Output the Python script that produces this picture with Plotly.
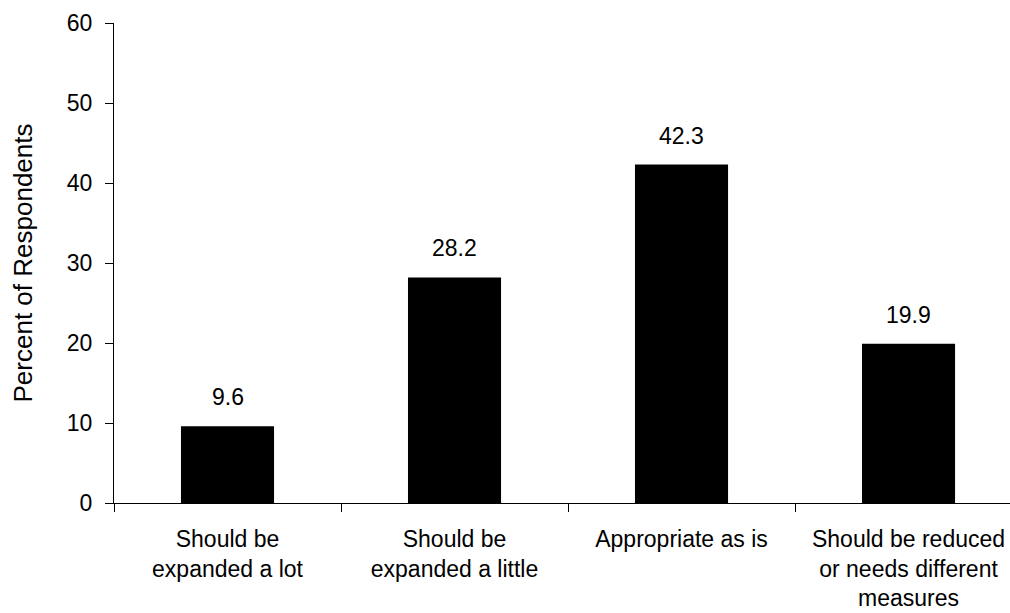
import plotly.graph_objects as go

categories = ["Should be<br>expanded a lot", "Should be<br>expanded a little",
              "Appropriate as is", "Should be reduced<br>or needs different<br>measures"]
values = [9.6, 28.2, 42.3, 19.9]
value_labels = ["9.6", "28.2", "42.3", "19.9"]
y_ticks = [0, 10, 20, 30, 40, 50, 60]

FONT = "Liberation Sans, Arial, sans-serif"

fig = go.Figure()
fig.add_trace(go.Bar(
    x=categories, y=values, width=0.41,
    marker=dict(color="#000000", line=dict(width=0)),
    hoverinfo="skip",
))

for c, v, t in zip(categories, values, value_labels):
    fig.add_annotation(x=c, y=v, text=t, showarrow=False, yanchor="bottom",
                       yshift=14, font=dict(family=FONT, size=23, color="#000"))

fig.update_layout(
    width=1010, height=613,
    margin=dict(l=114, r=0, t=23, b=110),
    plot_bgcolor="white", paper_bgcolor="white",
    showlegend=False,
    font=dict(family=FONT, size=23, color="#000"),
)
fig.update_xaxes(
    type="category", range=[-0.5, 3.447],
    showline=True, linecolor="#000", linewidth=1,
    ticks="outside", tickson="boundaries", ticklen=8, tickcolor="#000", tickwidth=1,
    showgrid=False, zeroline=False, tickangle=0,
    ticklabelstandoff=15,
)
fig.update_yaxes(
    range=[0, 60], tickvals=y_ticks, ticktext=[str(v) for v in y_ticks],
    showline=True, linecolor="#000", linewidth=1,
    ticks="outside", ticklen=8, tickcolor="#000", tickwidth=1,
    showgrid=False, zeroline=False,
    ticklabelstandoff=8,
    title=dict(text="Percent of Respondents", standoff=26,
               font=dict(family=FONT, size=26)),
)

fig.write_html(
    "out.html",
    config={"displayModeBar": False},
    post_script="document.body.style.margin='0px';document.body.style.overflow='hidden';",
)
